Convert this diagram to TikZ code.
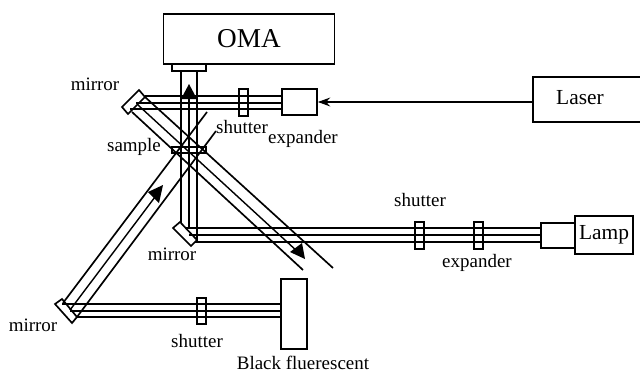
\documentclass[tikz,border=0pt]{standalone}
\usepackage{fontspec}
\setmainfont{Liberation Serif}
\usetikzlibrary{arrows.meta}
\tikzset{
  beam/.style={line width=0.95pt, black},
  thinbeam/.style={line width=0.8pt, black},
  unit/.style={draw, line width=0.95pt, inner sep=0pt},
  label/.style={font=\fontsize{10.8}{12}\selectfont, inner sep=0pt},
}
\begin{document}
\begin{tikzpicture}[x=0.02cm, y=-0.02cm]
  \useasboundingbox (0,0) rectangle (640,372);

  % --- Boxes ---
  \node[unit, minimum width=3.42cm, minimum height=1cm, font=\fontsize{15.5}{18}\selectfont] (oma) at (249,39) {OMA};
  \node[unit, minimum width=0.68cm, minimum height=0.14cm] (slit) at (189,67.5) {};
  \node[unit, minimum width=0.7cm, minimum height=0.52cm] (laserexp) at (299.5,102) {};
  \node[unit, minimum width=2.24cm, minimum height=0.9cm] (laser) at (589,99.5) {};
  \node[unit, minimum width=0.68cm, minimum height=0.5cm] (lampexp) at (558,235.5) {};
  \node[unit, minimum width=1.16cm, minimum height=0.76cm, font=\fontsize{12.2}{14}\selectfont] (lamp) at (604,235) {Lamp};
  \node[unit, minimum width=0.52cm, minimum height=1.4cm] (black) at (294,314) {};
  \node[unit, minimum width=0.68cm, minimum height=0.12cm] (sample) at (189,150) {};

  % Shutters
  \node[unit, minimum width=0.18cm, minimum height=0.54cm] (shuttertop) at (243.5,102.5) {};
  \node[unit, minimum width=0.18cm, minimum height=0.54cm] (shutterone) at (419.5,235.5) {};
  \node[unit, minimum width=0.18cm, minimum height=0.54cm] (shuttertwo) at (478.5,235.5) {};
  \node[unit, minimum width=0.18cm, minimum height=0.52cm] (shutterlow) at (201.5,311) {};

  % Mirrors
  \draw[line width=0.95pt] (122,107) -- (139,90) -- (145,97) -- (128,114) -- cycle;
  \draw[line width=0.95pt] (173,228) -- (180,222) -- (197,240) -- (191,246) -- cycle;
  \draw[line width=0.95pt] (55,304) -- (62,299) -- (77,317) -- (72,323) -- cycle;

  % --- Laser arrow ---
  \draw[line width=1.1pt, -{Stealth[length=7pt,width=5pt]}] (laser.west |- laserexp.east) -- (laserexp.east);

  % --- Laser beam ---
  \draw[beam] (145,96) -- (282,96);
  \draw[thinbeam] (136,103) -- (282,103);
  \draw[beam] (130,109) -- (282,109);

  % --- Lamp beam ---
  \draw[beam] (181,71) -- (181,223);
  \draw[thinbeam] (189,99) -- (189,228);
  \draw[beam] (197,71) -- (197,242);
  \draw[beam] (186,228) -- (541,228);
  \draw[thinbeam] (189,235) -- (541,235);
  \draw[beam] (195,242) -- (541,242);
  \fill (181,99) -- (189,84) -- (197,99) -- cycle;

  % --- Reflected beam ---
  \draw[beam] (145,97) -- (333,268);
  \draw[thinbeam] (138,105) -- (298,252);
  \draw[beam] (132,112) -- (303,270);
  \fill (290,252) -- (302,243) -- (305,259) -- cycle;

  % --- Black fluorescent beam ---
  \draw[beam] (62,304) -- (281,304);
  \draw[thinbeam] (70,311) -- (281,311);
  \draw[beam] (77,317) -- (281,317);
  \draw[beam] (63,303) -- (207,112);
  \draw[thinbeam] (70,310) -- (155,197);
  \draw[beam] (77,317) -- (216,131);
  \fill (148,192) -- (163,185) -- (159,203) -- cycle;

  % --- Labels ---
  \node[font=\fontsize{12.2}{14}\selectfont, inner sep=0pt] (laserlab) at (580,98) {Laser};
  \node[label] (mirrortop) at (95,84) {mirror};
  \node[label] (mirrormid) at (172,254) {mirror};
  \node[label] (mirrorlow) at (33,325) {mirror};
  \node[label] (samplelab) at (134,147) {sample};
  \node[label] (shutterlaba) at (242,127) {shutter};
  \node[label] (expanderlaba) at (303,139) {expander};
  \node[label] (shutterlabb) at (420,200) {shutter};
  \node[label] (expanderlabb) at (477,263) {expander};
  \node[label] (shutterlabc) at (197,341) {shutter};
  \node[label] (blacklab) at (303,362.5) {Black fluerescent};
\end{tikzpicture}
\end{document}
